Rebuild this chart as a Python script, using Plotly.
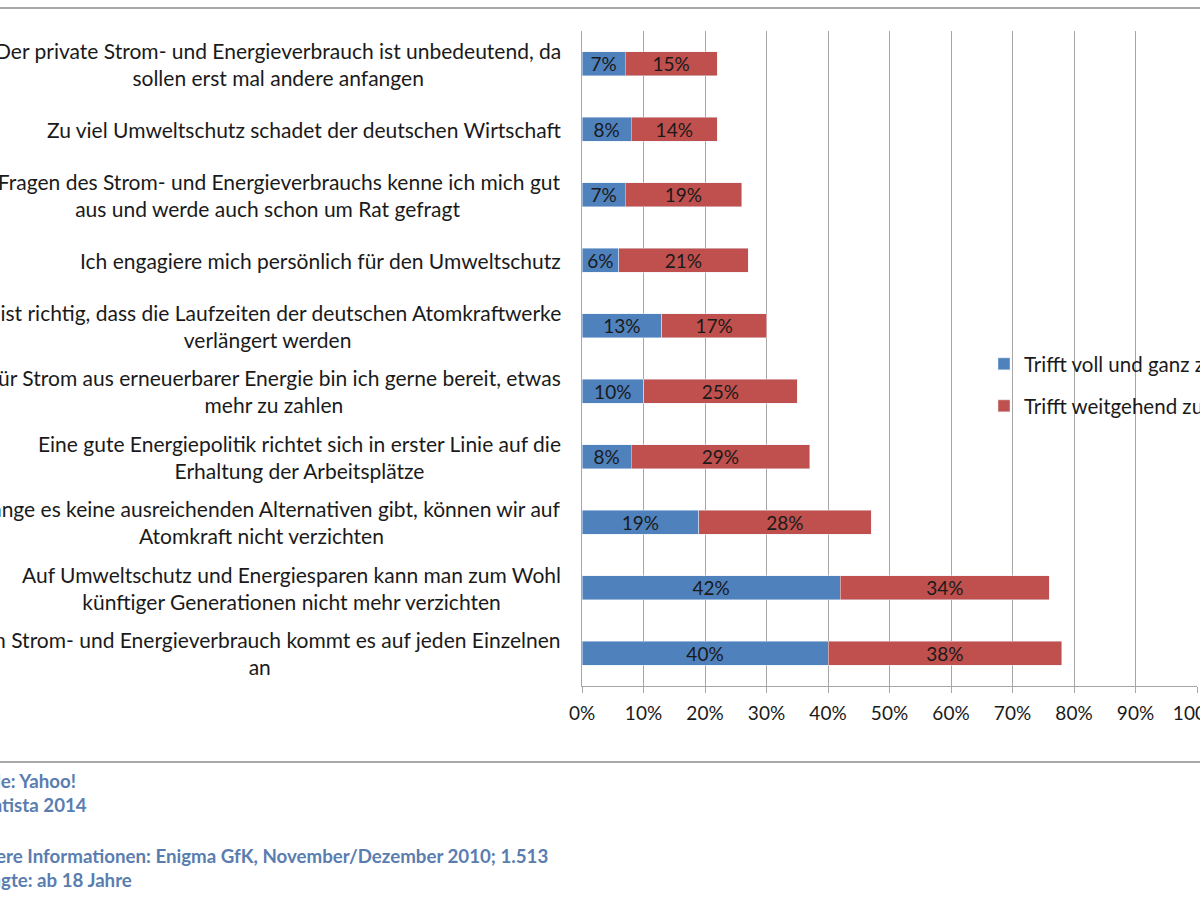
import plotly.graph_objects as go

categories = [
    "Der private Strom- und Energieverbrauch ist unbedeutend, da<br>sollen erst mal andere anfangen",
    "Zu viel Umweltschutz schadet der deutschen Wirtschaft",
    "In Fragen des Strom- und Energieverbrauchs kenne ich mich gut<br>aus und werde auch schon um Rat gefragt",
    "Ich engagiere mich persönlich für den Umweltschutz",
    "Es ist richtig, dass die Laufzeiten der deutschen Atomkraftwerke<br>verlängert werden",
    "Für Strom aus erneuerbarer Energie bin ich gerne bereit, etwas<br>mehr zu zahlen",
    "Eine gute Energiepolitik richtet sich in erster Linie auf die<br>Erhaltung der Arbeitsplätze",
    "Solange es keine ausreichenden Alternativen gibt, können wir auf<br>Atomkraft nicht verzichten",
    "Auf Umweltschutz und Energiesparen kann man zum Wohl<br>künftiger Generationen nicht mehr verzichten",
    "Beim Strom- und Energieverbrauch kommt es auf jeden Einzelnen<br>an",
]
voll = [0.07, 0.08, 0.07, 0.06, 0.13, 0.10, 0.08, 0.19, 0.42, 0.40]
weitgehend = [0.15, 0.14, 0.19, 0.21, 0.17, 0.25, 0.29, 0.28, 0.34, 0.38]
series_names = ["Trifft voll und ganz zu", "Trifft weitgehend zu"]
tick_vals = [0, 0.1, 0.2, 0.3, 0.4, 0.5, 0.6, 0.7, 0.8, 0.9, 1.0]
tick_text = ["0%", "10%", "20%", "30%", "40%", "50%", "60%", "70%", "80%", "90%", "100%"]
notes = [
    "Quelle: Yahoo!",
    "© Statista 2014",
    "Weitere Informationen: Enigma GfK, November/Dezember 2010; 1.513",
    "Befragte: ab 18 Jahre",
]

FONT = "Lato"
BLUE = "#4F81BD"
RED = "#C0504D"
TXT = "#1a1a1a"

W, H = 1200, 900
L, R, T, B = 582, 3, 31, 214
PW = W - L - R
PH = H - T - B

def px_x(px):
    return (px - L) / PW

def px_y(py):
    return 1 - (py - T) / PH

fig = go.Figure()
fig.add_trace(go.Bar(
    y=categories, x=voll, orientation="h", name=series_names[0],
    marker=dict(color=BLUE), text=[f"{round(v*100)}%" for v in voll],
    textposition="inside", insidetextanchor="middle", constraintext="none",
    textfont=dict(family=FONT, size=19, color=TXT),
    legend="legend",
))
fig.add_trace(go.Bar(
    y=categories, x=weitgehend, orientation="h", name=series_names[1],
    marker=dict(color=RED), text=[f"{round(v*100)}%" for v in weitgehend],
    textposition="inside", insidetextanchor="middle", constraintext="none",
    textfont=dict(family=FONT, size=19, color=TXT),
    legend="legend2",
))

annotations = []
for c in categories:
    annotations.append(dict(
        x=px_x(563), xref="paper", y=c, yref="y", text=c, showarrow=False,
        xanchor="right", yanchor="middle", align="center",
        font=dict(family=FONT, size=21, color=TXT),
    ))

note_y = [781, 805, 856, 880]
for t, py in zip(notes, note_y):
    annotations.append(dict(
        x=px_x(-46), xref="paper", y=px_y(py), yref="paper", text=f"<b>{t}</b>",
        showarrow=False, xanchor="left", yanchor="middle", align="left",
        font=dict(family=FONT, size=18.7, color="#5A7DB0"),
    ))

shapes = [
    dict(type="line", xref="paper", yref="paper", x0=px_x(0), x1=px_x(1200),
         y0=px_y(8), y1=px_y(8), line=dict(color="#8C8C8C", width=1.5)),
    dict(type="line", xref="paper", yref="paper", x0=px_x(0), x1=px_x(1200),
         y0=px_y(762), y1=px_y(762), line=dict(color="#8C8C8C", width=1.5)),
]

fig.update_layout(
    width=W, height=H,
    margin=dict(l=L, r=R, t=T, b=B, autoexpand=False),
    barmode="stack", bargap=0.63,
    plot_bgcolor="white", paper_bgcolor="white",
    font=dict(family=FONT, size=19, color=TXT),
    showlegend=True,
    xaxis=dict(
        range=[0, 1.0], tickvals=tick_vals, ticktext=tick_text,
        showgrid=True, gridcolor="#A6A6A6", gridwidth=1,
        ticks="outside", ticklen=6, tickcolor="#A6A6A6",
        showline=True, linecolor="#A6A6A6", linewidth=1,
        zeroline=False, automargin=False, ticklabelstandoff=4,
        ticklabeloverflow="allow",
        tickfont=dict(family=FONT, size=19, color=TXT),
    ),
    yaxis=dict(
        categoryorder="array", categoryarray=categories, autorange="reversed",
        showticklabels=False, showgrid=False, showline=True,
        linecolor="#A6A6A6", linewidth=1, ticks="", automargin=False,
    ),
    legend=dict(
        x=px_x(984), y=px_y(364), xanchor="left", yanchor="middle",
        bgcolor="rgba(0,0,0,0)", font=dict(family=FONT, size=20.5, color=TXT),
    ),
    legend2=dict(
        x=px_x(984), y=px_y(406), xanchor="left", yanchor="middle",
        bgcolor="rgba(0,0,0,0)", font=dict(family=FONT, size=20.5, color=TXT),
    ),
    annotations=annotations,
    shapes=shapes,
)

fig.write_html(
    "out.html",
    config={"displayModeBar": False},
    post_script="document.body.style.margin='0';document.body.style.overflow='hidden';",
)
